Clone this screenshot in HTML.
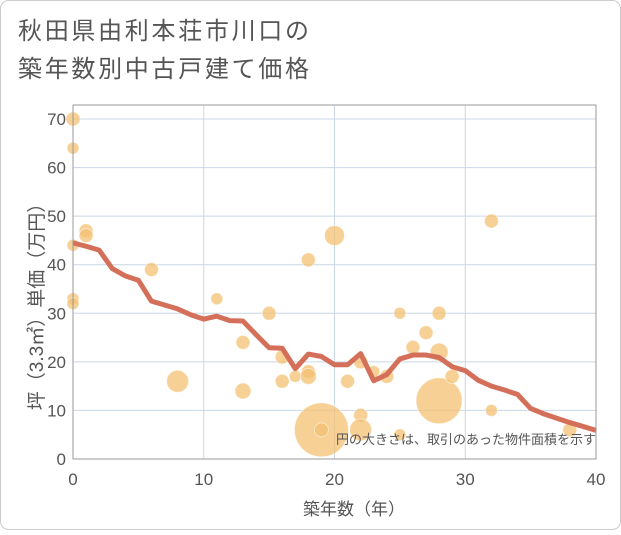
<!DOCTYPE html>
<html><head><meta charset="utf-8"><style>
body{margin:0;background:#fff;font-family:"Liberation Sans","Noto Sans CJK JP",sans-serif;}
#wrap{position:relative;width:621px;height:530px;}
</style></head><body>
<div id="wrap">
<svg id="svg" width="621" height="530" xmlns="http://www.w3.org/2000/svg">
<rect x="0.5" y="0.5" width="620" height="529" rx="8" fill="#fff" stroke="#ccc"/>
<text x="18" y="39" font-size="24" letter-spacing="2.7" fill="#555" font-family="Liberation Sans,Noto Sans CJK JP,sans-serif">秋田県由利本荘市川口の</text>
<text x="18" y="77" font-size="24" letter-spacing="2.7" fill="#555" font-family="Liberation Sans,Noto Sans CJK JP,sans-serif">築年数別中古戸建て価格</text>
<g id="grid"></g><g id="bubbles"></g><g id="line"></g><g id="axes"></g>
<text x="596" y="444" font-size="13" fill="#555" text-anchor="end" font-family="Liberation Sans,Noto Sans CJK JP,sans-serif">円の大きさは、取引のあった物件面積を示す</text>
<text x="354" y="515" font-size="17" fill="#555" text-anchor="middle" font-family="Liberation Sans,Noto Sans CJK JP,sans-serif">築年数（年）</text>
<text transform="translate(43,302) rotate(-90)" font-size="19" fill="#555" text-anchor="middle" font-family="Liberation Sans,Noto Sans CJK JP,sans-serif">坪（3.3㎡）単価（万円）</text>
</svg></div>
<script>
const xTicks=[0,10,20,30,40];
const yTicks=[0,10,20,30,40,50,60,70];
const ptYears=[0,0,0,0,0,1,1,6,8,11,13,13,15,16,16,17,18,18,18,19,19,20,21,22,22,22,23,24,25,25,26,27,28,28,28,29,32,32,38];
const ptValues=[70,64,44,33,32,47,46,39,16,33,24,14,30,21,16,17,41,18,17,6,6,46,16,20,9,6,18,17,30,5,23,26,22,12,30,17,49,10,6];
const ptSizes=[7,6,6,6,6,7,7,7,11,6,7,8,7,7,7,6,7,7,8,27,7,10,7,7,7,11,6,7,6,6,7,7,9,23,7,7,7,6,7];
const lineYears=[0,1,2,3,4,5,6,7,8,9,10,11,12,13,14,15,16,17,18,19,20,21,22,23,24,25,26,27,28,29,30,31,32,33,34,35,36,37,38,39,40];
const lineValues=[44.5,43.8,43,39.2,37.7,36.8,32.5,31.7,30.9,29.7,28.8,29.4,28.5,28.4,25.6,22.9,22.8,18.6,21.6,21.1,19.4,19.4,21.7,16.1,17.4,20.6,21.4,21.4,20.9,19,18.2,16.2,15,14.2,13.3,10.4,9.3,8.4,7.5,6.7,5.9];
const X0=73,X1=596,Y0=459,Y1=105;
const xs=v=>X0+(v-0)/40*(X1-X0);
const ys=v=>Y0-v/70*(459-119);
const NS="http://www.w3.org/2000/svg";
function mk(tag,attrs,parent){const e=document.createElementNS(NS,tag);for(const k in attrs)e.setAttribute(k,attrs[k]);document.getElementById(parent).appendChild(e);return e;}
xTicks.forEach(t=>{const l=mk('line',{x1:xs(t),x2:xs(t),y1:Y1,y2:Y0,stroke:'#c9d7e6','stroke-width':1},'grid');

const tx=mk('text',{x:xs(t),y:485,'font-size':17,fill:'#555','text-anchor':'middle'},'axes');tx.textContent=t;
});
yTicks.forEach(t=>{const l=mk('line',{x1:X0,x2:X1,y1:ys(t),y2:ys(t),stroke:'#c9d7e6','stroke-width':1},'grid');

const tx=mk('text',{x:66,y:ys(t)+6,'font-size':17,fill:'#555','text-anchor':'end'},'axes');tx.textContent=t;
});
const fr=mk('rect',{x:X0,y:Y1,width:X1-X0,height:Y0-Y1,fill:'none',stroke:'#999','stroke-width':1},'axes');

ptYears.forEach((y,i)=>{const c=mk('circle',{cx:xs(y),cy:ys(ptValues[i]),r:ptSizes[i],fill:'#f3c071','fill-opacity':0.75,stroke:'#fff','stroke-opacity':0.5},'bubbles');
});
const p=mk('polyline',{points:lineYears.map((y,i)=>xs(y)+','+ys(lineValues[i])).join(' '),fill:'none',stroke:'#d4705a','stroke-width':5,'stroke-linejoin':'round'},'line');

</script></body></html>
